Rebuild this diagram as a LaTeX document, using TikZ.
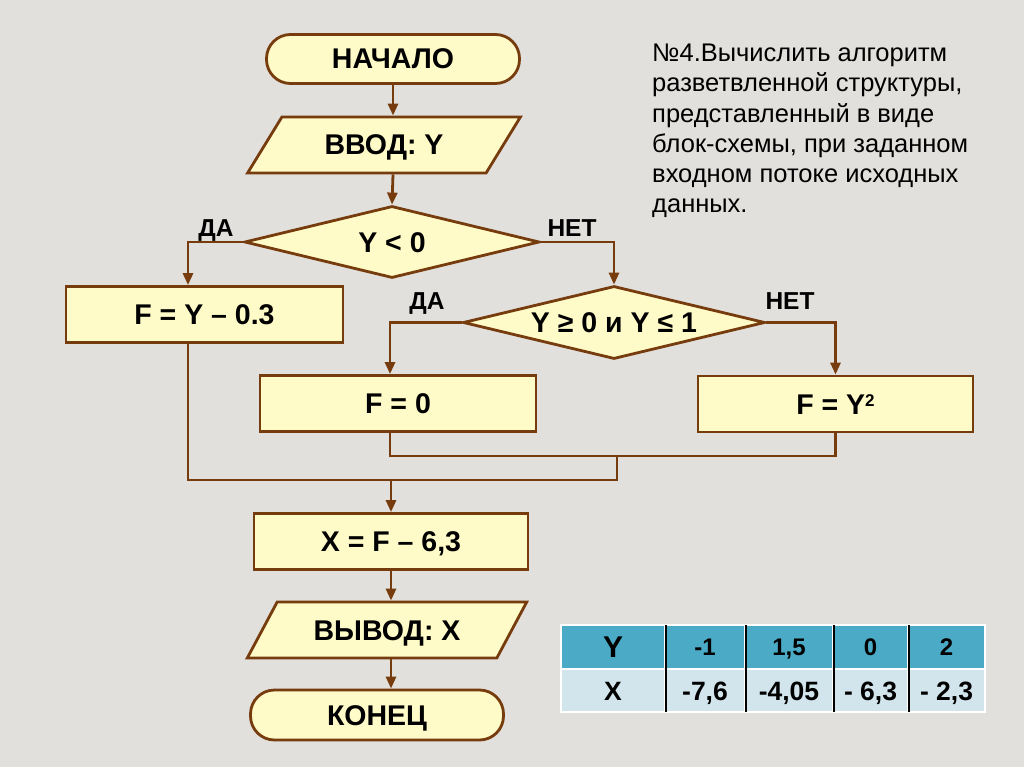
\documentclass[tikz,border=0pt]{standalone}
\usepackage{fontspec}
\setmainfont{Liberation Sans}
\usetikzlibrary{shapes.geometric,arrows.meta,positioning,calc}

\definecolor{bgstone}{RGB}{226,224,220}
\definecolor{blockfill}{RGB}{255,251,200}
\definecolor{flowbrown}{RGB}{118,60,14}
\definecolor{headteal}{RGB}{75,170,197}
\definecolor{rowblue}{RGB}{210,229,237}

\newcommand{\flowfont}{\fontsize{28.5}{31}\selectfont\bfseries}
\newcommand{\tagfont}{\fontsize{24.5}{28}\selectfont\bfseries}
\newcommand{\squared}{\raisebox{8pt}{\fontsize{17}{17}\selectfont 2}}

\tikzset{
  block/.style={draw=flowbrown, fill=blockfill, line width=2.8pt, font=\flowfont,
    inner sep=0pt, text height=20pt, text depth=0pt},
  procbox/.style={block, rectangle, minimum height=56pt},
  termbox/.style={block, rectangle, rounded corners=24pt, minimum width=253pt, minimum height=49pt},
  iobox/.style={block, trapezium, trapezium left angle=45, trapezium right angle=135,
    trapezium stretches=true, minimum height=56pt},
  decision/.style={block, diamond, aspect=4},
  flowline/.style={draw=flowbrown, line width=2.8pt},
  flowarrow/.style={flowline, -{Triangle[length=12pt,width=10pt]}},
  tag/.style={font=\tagfont, inner sep=0pt, anchor=base},
  cell/.style={draw=white, line width=2pt, inner sep=0pt, minimum height=44pt, text depth=0pt},
}

\begin{document}
\begin{tikzpicture}[x=1pt, y=-1pt]

        % page
        \fill[bgstone] (0,0) rectangle (1024,767);
        \useasboundingbox (0,0) rectangle (1024,767);

        % main column
        \node[termbox] (start) at (393,59) {НАЧАЛО};
        \node[iobox, minimum width=273pt] (inp) at (384,145) {ВВОД: Y};
        \node[decision, minimum width=295pt, minimum height=72pt] (cond1) at (392,242) {Y < 0};

        % branches
        \node[procbox, minimum width=277pt] (fneg) at (204.5,314.5) {F = Y – 0.3};
        \node[decision, minimum width=302pt, minimum height=73pt] (cond2) at (614,322.5) {Y ≥ 0 и Y ≤ 1};
        \node[procbox, minimum width=276pt] (fzero) at (398,403.5) {F = 0};
        \node[procbox, minimum width=275pt] (fsq) at (835.5,404) {F = Y\squared};

        \node[tag] (yes1) at (216,236.5) {ДА};
        \node[tag] (no1) at (572,236.5) {НЕТ};
        \node[tag] (yes2) at (427,309) {ДА};
        \node[tag] (no2) at (790,309) {НЕТ};

        % end of the column
        \node[procbox, minimum width=274pt] (calc) at (391,541.5) {X = F – 6,3};
        \node[iobox, minimum width=280pt] (out) at (387,630) {ВЫВОД: X};
        \node[termbox, minimum height=50pt] (stop) at (377,715) {КОНЕЦ};

        % connectors
        \draw[flowarrow] (start) -- (start |- inp.north);
        \draw[flowarrow] (inp.south -| start) -- (cond1.north);
        \draw[flowarrow] (cond1.west) -| ([xshift=-16.5pt]fneg.north);
        \draw[flowarrow] (cond1.east) -| (cond2.north);
        \draw[flowarrow] (cond2.west) -| ([xshift=-8pt]fzero.north);
        \draw[flowarrow] (cond2.east) -| (fsq.north);

        \coordinate (j1) at (617,456);
        \coordinate (j2) at (391,480);
        \draw[flowline] ([xshift=-8pt]fzero.south) |- (j1) -| (fsq.south);
        \draw[flowline] ([xshift=-16.5pt]fneg.south) |- (j2) -| (j1);
        \draw[flowarrow] (j2) -- (calc);
        \draw[flowarrow] (calc) -- (calc |- out.north);
        \draw[flowarrow] (out.south -| calc) -- (calc |- stop.north);

        % task text
        \node[anchor=north west, align=left, inner sep=0pt,
              font=\fontsize{25.5}{30.2}\selectfont] (task) at (652,44)
              {№4.Вычислить алгоритм\\ разветвленной структуры,\\ представленный в виде\\
               блок-схемы, при заданном\\ входном потоке исходных\\ данных.};

        % table of values
        \foreach \i/\cx/\cw/\fs/\th/\vy/\vx in {0/613/104/30/21.5/{Y}/{X}, 1/705/80/24/17/{-1}/{-7,6},
            2/789/88/24/17/{1,5}/{-4,05}, 3/870.5/75/24/17/{0}/{- 6,3}, 4/946.5/77/24/17/{2}/{- 2,3}} {
            \node[cell, fill=headteal, minimum width=\cw pt, text height=\th pt,
                  font=\fontsize{\fs}{\fs}\selectfont\bfseries] (y\i) at (\cx,647) {\vy};
            \node[cell, fill=rowblue, minimum width=\cw pt, minimum height=43pt, text height=19pt,
                  font=\fontsize{26.5}{27}\selectfont\bfseries] (x\i) at (\cx,690.5) {\vx};
        }
        \foreach \i in {0,...,3}
            \draw[black, line width=1.6pt, shorten <=1pt, shorten >=1pt] (y\i.north east) -- (x\i.south east);

\end{tikzpicture}
\end{document}
